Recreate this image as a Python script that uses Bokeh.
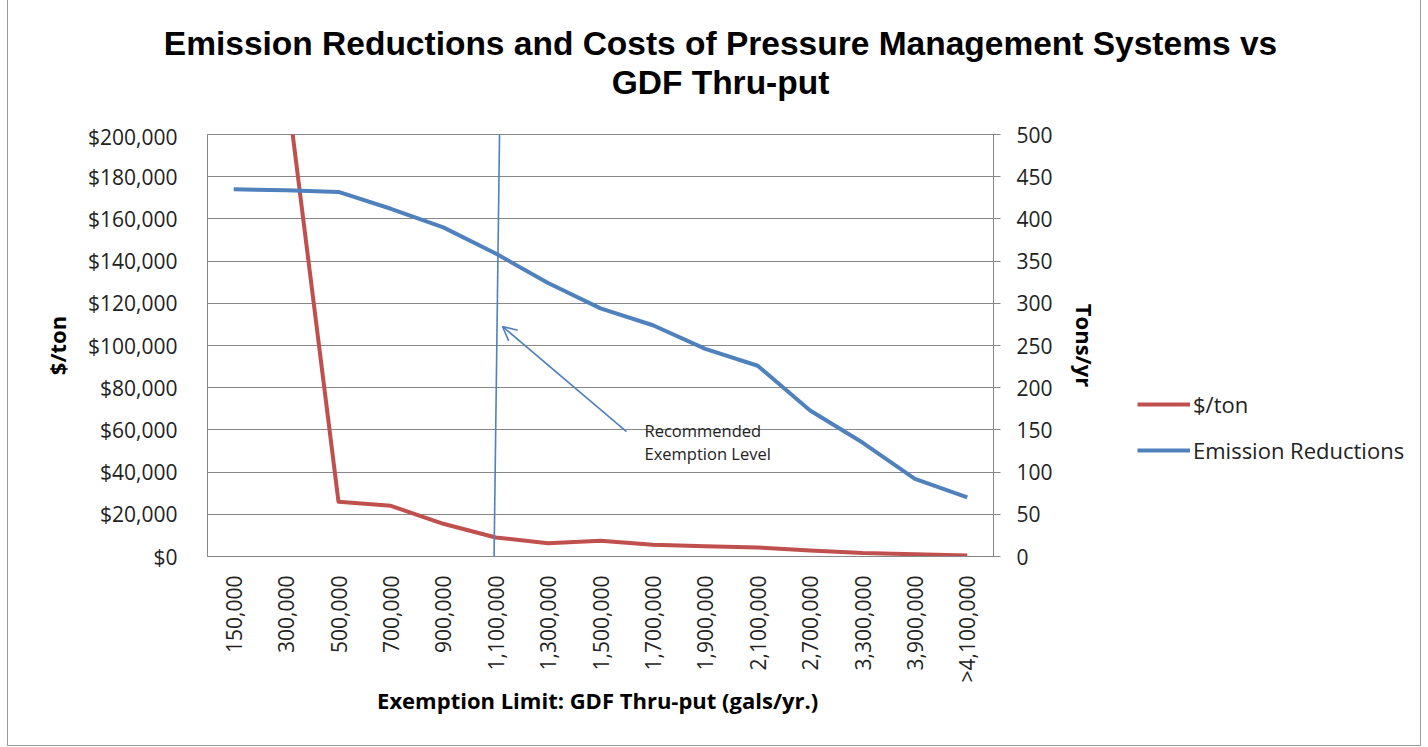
from bokeh.plotting import figure
from bokeh.layouts import column, row
from bokeh.models import (Range1d, LinearAxis, SingleIntervalTicker, NumeralTickFormatter,
                          Label, Arrow, OpenHead, Legend, LegendItem, ColumnDataSource)
from bokeh.embed import file_html
from bokeh.resources import INLINE
import math

# ---------------- data ----------------
categories = ["150,000", "300,000", "500,000", "700,000", "900,000", "1,100,000",
              "1,300,000", "1,500,000", "1,700,000", "1,900,000", "2,100,000",
              "2,700,000", "3,300,000", "3,900,000", ">4,100,000"]
cost_per_ton = [400000, 225000, 26000, 24000, 15500, 9000, 6300, 7500, 5600,
                4900, 4300, 2900, 1700, 1100, 500]
tons_per_yr = [435, 434, 432, 412, 390, 359, 324, 294, 274, 246, 226, 173, 135, 92, 70]

title_lines = ["Emission Reductions and Costs of Pressure Management Systems vs",
               "GDF Thru-put"]
note_lines = ["Recommended", "Exemption Level"]
recommended_level = "1,100,000"
series_names = ["$/ton", "Emission Reductions"]

RED = "#C0504D"
BLUE = "#4F81BD"
GRID = "#878787"
TICK_FONT = "Open Sans"
TXT = "#222222"

TOTAL_W = 1412
TITLE_H = 122
MAIN_W = 1120
MAIN_H = 623

# ---------------- title strip ----------------
pt = figure(width=TOTAL_W, height=TITLE_H, x_range=Range1d(0, 1), y_range=Range1d(0, 1),
            x_axis_type=None, y_axis_type=None, output_backend="svg", toolbar_location=None,
            min_border=0, outline_line_color=None, background_fill_color="white",
            border_fill_color="white")
pt.grid.visible = False
for k, t in enumerate(title_lines):
    pt.add_layout(Label(x=712, y=79 - k * 39, x_units="screen", y_units="screen", text=t,
                        text_align="center", text_baseline="alphabetic",
                        text_font="Liberation Sans", text_font_style="bold",
                        text_font_size="33.5px", text_color="black"))

# ---------------- main chart ----------------
src = ColumnDataSource(dict(cat=categories, cost=cost_per_ton, tons=tons_per_yr))

p = figure(x_range=categories, y_range=Range1d(0, 200000),
           width=MAIN_W, height=MAIN_H, output_backend="svg", toolbar_location=None,
           min_border_left=199, min_border_right=MAIN_W - 199 - 786,
           min_border_top=12, min_border_bottom=MAIN_H - 12 - 422,
           background_fill_color="white", border_fill_color="white")
p.extra_y_ranges = {"tons": Range1d(0, 500)}

p.outline_line_color = GRID
p.xgrid.grid_line_color = None
p.ygrid.grid_line_color = GRID
p.ygrid.grid_line_width = 1

def style_axis(ax):
    ax.axis_line_color = GRID
    ax.minor_tick_line_color = None
    ax.major_label_text_font = TICK_FONT
    ax.major_label_text_font_size = "21px"
    ax.major_label_text_color = TXT
    ax.axis_label_text_font = TICK_FONT
    ax.axis_label_text_font_size = "22px"
    ax.axis_label_text_font_style = "bold"
    ax.axis_label_text_color = "black"

# left axis
ya = p.yaxis[0]
style_axis(ya)
ya.ticker = SingleIntervalTicker(interval=20000)
ya.formatter = NumeralTickFormatter(format="$0,0")
ya.axis_label = "$/ton"
ya.major_tick_line_color = None
ya.major_label_standoff = 24
ya.axis_label_standoff = 13

# right axis
ra = LinearAxis(y_range_name="tons", ticker=SingleIntervalTicker(interval=50))
style_axis(ra)
ra.axis_label = "Tons/yr"
ra.major_tick_line_color = GRID
ra.major_tick_in = 0
ra.major_tick_out = 7
ra.major_label_standoff = 16
ra.axis_label_standoff = 14
p.add_layout(ra, "right")

# bottom axis
xa = p.xaxis[0]
style_axis(xa)
xa.axis_label = "Exemption Limit: GDF Thru-put  (gals/yr.)"
xa.major_tick_line_color = None
xa.major_label_orientation = math.pi / 2
xa.major_label_standoff = 13
xa.axis_label_standoff = 0

# series
p.line("cat", "cost", source=src, line_color=RED, line_width=4, line_join="round")
p.line("cat", "tons", source=src, y_range_name="tons", line_color=BLUE,
       line_width=4, line_join="round")

# recommended level marker line and arrow
i0 = categories.index(recommended_level) + 0.5
p.add_layout(Arrow(end=None, x_start=i0 + 0.082, y_start=217000, x_end=i0 - 0.033, y_end=-3800,
                   line_color=BLUE, line_width=1.6))
i1 = categories.index("1,500,000") + 0.5
p.add_layout(Arrow(end=OpenHead(size=14, line_color=BLUE, line_width=1.6),
                   x_start=i1 + 0.496, y_start=59200, x_end=i0 + 0.13, y_end=109000,
                   line_color=BLUE, line_width=1.6))
for k, t in enumerate(note_lines):
    p.add_layout(Label(x=i1 + 0.84, y=59700 - k * 11000, text=t, text_font=TICK_FONT,
                       text_font_size="16.5px", text_color=TXT, text_baseline="alphabetic"))

# ---------------- legend strip ----------------
pl = figure(width=TOTAL_W - MAIN_W, height=MAIN_H, x_range=Range1d(0, 1), y_range=Range1d(0, 1),
            x_axis_type=None, y_axis_type=None, output_backend="svg", toolbar_location=None,
            min_border=0, outline_line_color=None, background_fill_color="white",
            border_fill_color="white")
pl.grid.visible = False
# legend proxies (series values placed outside this strip's visible range)
proxy_x = [i + 10 for i in range(len(categories))]
lr_cost = pl.line(x=proxy_x, y=cost_per_ton, line_color=RED, line_width=4)
lr_tons = pl.line(x=proxy_x, y=tons_per_yr, line_color=BLUE, line_width=4)
legend = Legend(items=[LegendItem(label=series_names[0], renderers=[lr_cost]),
                       LegendItem(label=series_names[1], renderers=[lr_tons])],
                location=(9, 91), orientation="vertical",
                glyph_width=53, glyph_height=30, label_height=30, label_standoff=3,
                spacing=16, padding=0, margin=0, border_line_color=None,
                background_fill_alpha=0, label_text_font=TICK_FONT,
                label_text_font_size="22px", label_text_color=TXT)
pl.add_layout(legend, "center")

layout = column(pt, row(p, pl, spacing=0), spacing=0)
layout.styles = {"margin-left": "7px", "border-left": "1px solid #9a9a9a",
                 "border-right": "1px solid #9a9a9a", "border-bottom": "1px solid #9a9a9a"}

open("out.html", "w").write(file_html(layout, INLINE))
